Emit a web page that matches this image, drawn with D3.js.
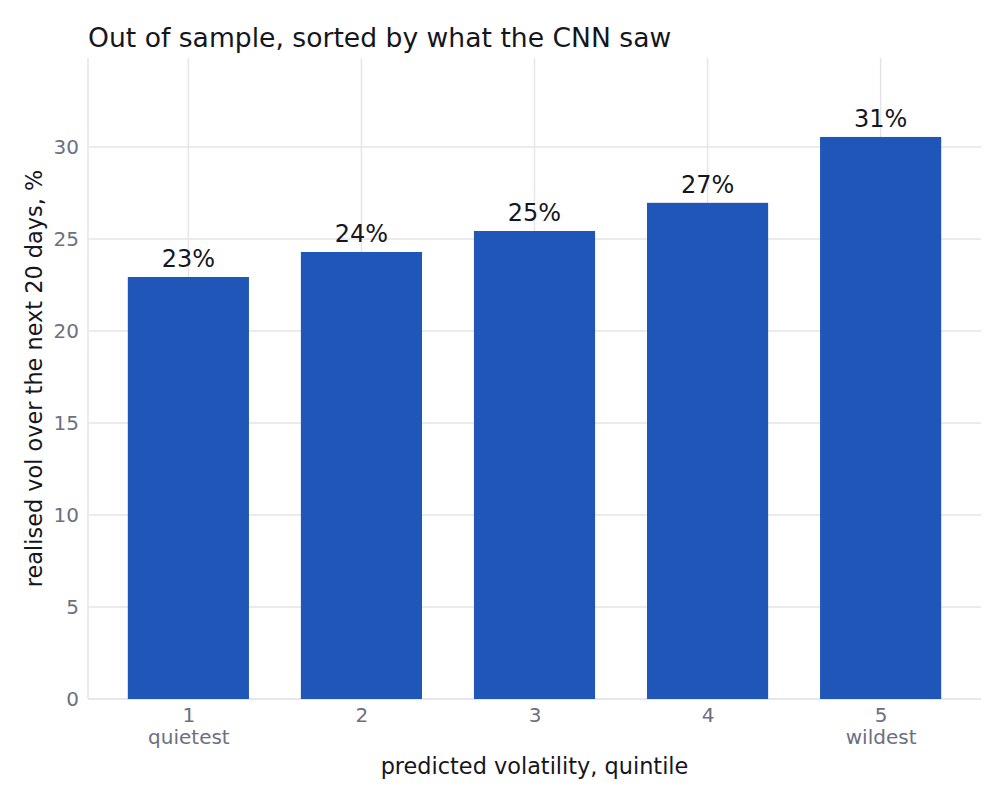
<!DOCTYPE html>
<html>
<head>
<meta charset="utf-8">
<script src="https://cdn.jsdelivr.net/npm/d3@7"></script>
<style>
  body { margin: 0; background: #fff; }
  text { font-family: "DejaVu Sans", sans-serif; }
</style>
</head>
<body>
<div id="chart"></div>
<script>
var width = 1006;
var height = 802;

// data
const quintiles = [1, 2, 3, 4, 5];
const quintileNotes = ["quietest", "", "", "", "wildest"];
const realisedVol = [22.93, 24.29, 25.43, 26.96, 30.54];
const barLabels = ["23%", "24%", "25%", "27%", "31%"];
const yTicks = [0, 5, 10, 15, 20, 25, 30];

var margin = { top: 58, right: 25, bottom: 103, left: 88 };
var svg = d3
	.select("#chart")
	.append("svg")
	.attr("width", width)
	.attr("height", height);

var x = d3.scaleLinear().domain([0.42, 5.58]).range([margin.left, width - margin.right]);
var y = d3.scaleLinear().domain([0, 34.83]).range([height - margin.bottom, margin.top]);
var barW = x(1.7) - x(1); // bar width 0.7 units

var grid = "#e5e5ea";
var tickCol = "#6b7080";

// grid lines
svg.append("g")
	.selectAll("line.h")
	.data(yTicks)
	.join("line")
	.attr("x1", x.range()[0])
	.attr("x2", x.range()[1])
	.attr("y1", (d) => y(d))
	.attr("y2", (d) => y(d))
	.attr("stroke", grid)
	.attr("stroke-width", 1.5);

svg.append("g")
	.selectAll("line.v")
	.data(quintiles)
	.join("line")
	.attr("x1", (d) => x(d))
	.attr("x2", (d) => x(d))
	.attr("y1", y.range()[0])
	.attr("y2", y.range()[1])
	.attr("stroke", grid)
	.attr("stroke-width", 1.5);

// spines
svg.append("line")
	.attr("x1", x.range()[0]).attr("x2", x.range()[0])
	.attr("y1", y.range()[0]).attr("y2", y.range()[1])
	.attr("stroke", grid).attr("stroke-width", 1.5);
svg.append("line")
	.attr("x1", x.range()[0]).attr("x2", x.range()[1])
	.attr("y1", y.range()[0]).attr("y2", y.range()[0])
	.attr("stroke", grid).attr("stroke-width", 1.5);

// bars
svg.append("g")
	.selectAll("rect")
	.data(realisedVol)
	.join("rect")
	.attr("x", (d, i) => x(quintiles[i]) - barW / 2)
	.attr("width", barW)
	.attr("y", (d) => y(d))
	.attr("height", (d) => y(0) - y(d))
	.attr("fill", "#1f56b8");

// value labels
svg.append("g")
	.selectAll("text")
	.data(realisedVol)
	.join("text")
	.attr("x", (d, i) => x(quintiles[i]))
	.attr("y", (d) => y(d) - 10)
	.attr("text-anchor", "middle")
	.attr("font-size", 24)
	.attr("fill", "#16161d")
	.text((d, i) => barLabels[i]);

// axes (no tick marks, no domain)
var yAxis = d3.axisLeft(y).tickValues(yTicks).tickSize(0).tickPadding(9);
var gy = svg.append("g").attr("transform", `translate(${x.range()[0]},0)`).call(yAxis);
gy.select(".domain").remove();
gy.selectAll("text").attr("font-size", 20).attr("fill", tickCol).attr("font-family", "DejaVu Sans");

var xAxis = d3.axisBottom(x).tickValues(quintiles).tickSize(0).tickPadding(9).tickFormat(d3.format("d"));
var gx = svg.append("g").attr("transform", `translate(0,${y.range()[0]})`).call(xAxis);
gx.select(".domain").remove();
gx.selectAll("text").attr("font-size", 20).attr("fill", tickCol).attr("font-family", "DejaVu Sans");
gx.selectAll(".tick")
	.append("text")
	.attr("y", 45)
	.attr("text-anchor", "middle")
	.attr("font-size", 20)
	.attr("fill", tickCol)
	.attr("font-family", "DejaVu Sans")
	.text((d, i) => quintileNotes[i]);

// titles
svg.append("text")
	.attr("x", 88)
	.attr("y", 47)
	.attr("font-size", 26.6)
	.attr("fill", "#16161d")
	.text("Out of sample, sorted by what the CNN saw");

svg.append("text")
	.attr("x", (x.range()[0] + x.range()[1]) / 2)
	.attr("y", 774)
	.attr("text-anchor", "middle")
	.attr("font-size", 22.4)
	.attr("fill", "#16161d")
	.text("predicted volatility, quintile");

svg.append("text")
	.attr("transform", `translate(42,${(y.range()[0] + y.range()[1]) / 2}) rotate(-90)`)
	.attr("text-anchor", "middle")
	.attr("font-size", 22.4)
	.attr("fill", "#16161d")
	.text("realised vol over the next 20 days, %");
</script>
</body>
</html>
